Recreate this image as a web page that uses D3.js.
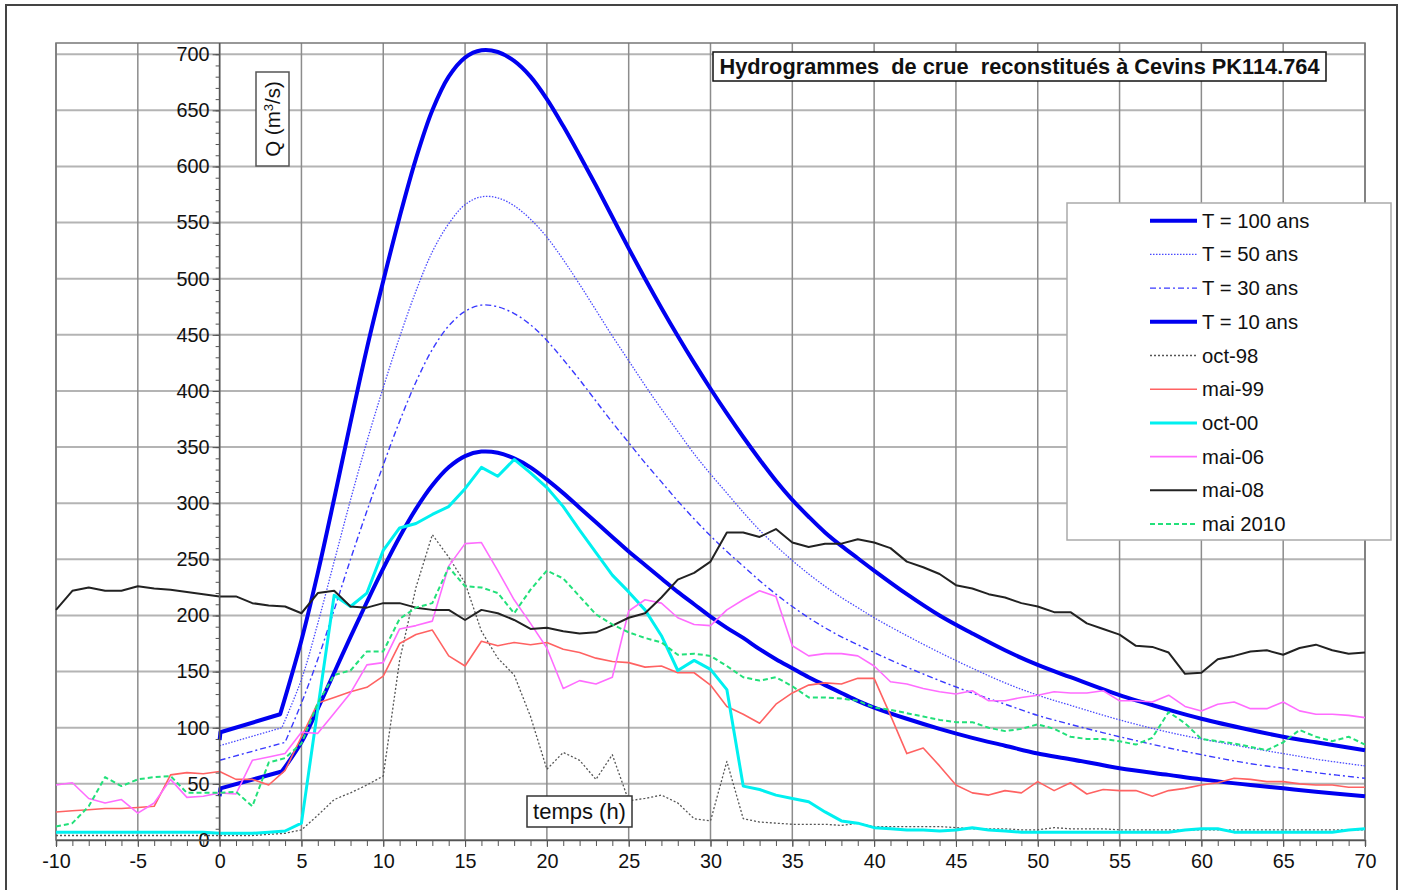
<!DOCTYPE html>
<html><head><meta charset="utf-8">
<script src="https://cdn.jsdelivr.net/npm/d3@7/dist/d3.min.js"></script>
<style>
body{margin:0;background:#fff}
svg{display:block}
text{font-family:"Liberation Sans",Arial,sans-serif;fill:#111}
</style>
</head><body>
<svg id="c" width="1405" height="890"></svg>
<script>
// ---------- DATA ----------
const titleText = "Hydrogrammes  de crue  reconstitués à Cevins PK114.764";
const xLabel = "temps (h)";
const xTickLabels = [-10,-5,0,5,10,15,20,25,30,35,40,45,50,55,60,65,70];
const yTickLabels = [0,50,100,150,200,250,300,350,400,450,500,550,600,650,700];

// observed series, hourly from t = -10 to t = 70
const hours = [-10,-9,-8,-7,-6,-5,-4,-3,-2,-1,0,1,2,3,4,5,6,7,8,9,10,11,12,13,14,15,16,17,18,19,20,21,22,23,24,25,26,27,28,29,30,31,32,33,34,35,36,37,38,39,40,41,42,43,44,45,46,47,48,49,50,51,52,53,54,55,56,57,58,59,60,61,62,63,64,65,66,67,68,69,70];

const oct98 = [4,4,4,4,4,4,4,4,4,4, 4,4,4,5,6,9,22,36,42,49, 57,160,225,272,252,229,186,162,147,110, 63,78,71,54,76,35,37,40,33,19, 17,70,19,16,15,14,14,14,13,15, 12,12,12,12,12,11,10,10,10,9, 9,11,10,10,10,9,9,9,9,9, 9,9,9,9,9,9,9,9,9,9, 9];
const mai99 = [25,26,27,28,28,29,30,58,60,59, 61,54,54,49,62,92,122,127,132,136, 146,175,183,187,164,155,177,173,176,174, 176,170,167,162,159,158,154,155,149,149, 138,119,112,104,121,131,138,140,139,144, 144,111,77,82,66,49,42,40,44,42, 52,44,51,41,45,44,44,39,44,46, 49,51,55,54,52,52,50,49,49,47, 47];
const oct00 = [7,7,7,7,7,7,7,7,7,7, 6,6,6,7,8,15,117,218,208,220, 258,278,282,290,297,313,332,324,339,327, 314,297,276,256,236,221,205,182,151,160, 152,134,48,45,40,37,34,25,17,15, 11,10,9,9,8,9,11,9,8,7, 7,7,7,7,7,7,7,7,7,9, 10,10,7,7,7,7,7,7,7,9, 10];
const mai06 = [49,51,37,33,36,24,33,54,38,39, 42,41,71,74,77,96,95,113,131,156, 158,188,191,195,244,264,265,240,214,193, 171,135,142,139,145,204,214,211,198,192, 191,205,214,222,217,173,164,166,166,164, 155,141,139,135,132,130,133,124,124,127, 129,132,131,131,133,124,124,123,129,119, 115,121,123,117,117,123,115,112,112,111, 109];
const mai08 = [205,222,225,222,222,226,224,223,221,219, 217,217,211,209,208,202,220,222,208,207, 211,211,207,205,205,196,205,202,196,188, 189,186,184,185,191,198,202,216,232,238, 248,274,274,270,277,265,261,264,264,268, 265,260,248,243,237,227,224,219,216,211, 208,203,203,193,188,183,173,172,167,148, 149,161,164,168,169,165,171,174,169,166, 167];
const mai2010 = [12,15,30,56,48,54,56,57,42,42, 42,43,30,69,73,86,122,147,151,168, 168,197,207,211,243,226,225,220,202,223, 240,233,217,201,192,185,180,176,165,166, 164,155,145,142,145,137,127,127,126,124, 118,116,113,110,107,105,105,100,97,99, 103,99,92,90,90,88,85,91,114,104, 90,88,86,83,80,87,98,92,88,92, 85];

// design hydrographs [time (h), Q]
const t100 = [[0,89],[0.05,96],[3.7,112],[5,178],[6,238],[7,304],[8,372],[9,438],[10,498],[11,555],[12,607],[13,650],[14,680],[15,697],[16,703.5],[17,702],[18,694],[19,680],[20,660],[21,636],[22,610],[23,583],[24,555],[25,527],[26,500],[27,474],[28,449],[29,425],[30,402],[31,380],[32,359],[33,339],[34,320],[35,303],[36,288],[37,274],[38,262],[39,251],[40,240],[42,219],[44,200],[46,184],[48,169],[50,156],[52,145],[55,129],[58,116],[60,108],[63,98],[65,92],[67,87],[70,80]];
const t50 = [[0,84],[3.8,100],[5,143],[6,193],[7,248],[8,303],[9,355],[10,403],[11,448],[12,489],[13,524],[14,549],[15,566],[16,573],[17,572],[18,565],[19,553],[20,537],[21,517],[22,495],[23,472],[24,449],[25,427],[26,405],[27,384],[28,364],[29,344],[30,326],[31,309],[32,292],[33,276],[34,262],[35,249],[36,237],[37,226],[38,216],[39,207],[40,198],[42,182],[44,167],[46,153],[48,140],[50,129],[52,120],[55,107],[58,96],[60,90],[63,82],[65,77],[67,72],[70,66]];
const t30 = [[0,71],[4,87],[5,122],[6,161],[7,205],[8,250],[9,293],[10,334],[11,373],[12,408],[13,437],[14,458],[15,471],[16,476.5],[17,475],[18,469],[19,459],[20,445],[21,428],[22,410],[23,391],[24,372],[25,354],[26,336],[27,319],[28,302],[29,286],[30,271],[31,257],[32,244],[33,231],[34,219],[35,208],[36,198],[37,189],[38,181],[39,174],[40,167],[42,154],[44,142],[46,131],[48,121],[50,111],[52,103],[55,92],[58,82],[60,76],[63,68],[65,64],[67,60],[70,55]];
const t10 = [[0,39],[0.05,46],[3.8,61],[5,87],[6,117],[7,149],[8,181],[9,212],[10,242],[11,270],[12,295],[13,316],[14,332],[15,342],[16,346],[17,345],[18,340],[19,332],[20,321],[21,309],[22,296],[23,283],[24,270],[25,257],[26,245],[27,233],[28,221],[29,210],[30,199],[31,189],[32,180],[33,170],[34,161],[35,153],[36,145],[37,138],[38,131],[39,124],[40,118],[42,108],[44,99],[46,91],[48,84],[50,77],[52,72],[55,64],[58,58],[60,54],[63,49],[65,46],[67,43],[70,39]];

const seriesNames = ["T = 100 ans","T = 50 ans","T = 30 ans","T = 10 ans","oct-98","mai-99","oct-00","mai-06","mai-08","mai 2010"];

// ---------- STYLES ----------
const styles = {
  "T = 100 ans": {c:"#0000f0", w:4, d:null, kink:2},
  "T = 50 ans":  {c:"#4a4aff", w:1.3, d:"1.5,1.5", kink:1},
  "T = 30 ans":  {c:"#3a3aff", w:1.4, d:"6,3,2,3", kink:1},
  "T = 10 ans":  {c:"#0000f0", w:4, d:null, kink:2},
  "oct-98":      {c:"#555555", w:1.3, d:"2,2"},
  "mai-99":      {c:"#ff6262", w:1.6, d:null},
  "oct-00":      {c:"#00f0f0", w:3, d:null},
  "mai-06":      {c:"#ff6cff", w:1.6, d:null},
  "mai-08":      {c:"#222222", w:2, d:null},
  "mai 2010":    {c:"#22e07a", w:2, d:"5,3"}
};
const FONT = "Liberation Sans, Arial, sans-serif";

const svg = d3.select("#c");
const x = d3.scaleLinear().domain([-10,70]).range([56,1365]);
const y = d3.scaleLinear().domain([0,710]).range([840,43]);

// outer frame
svg.append("rect").attr("x",6).attr("y",5).attr("width",1391).attr("height",900)
  .attr("fill","#fff").attr("stroke","#444").attr("stroke-width",2);

// grid
const g = svg.append("g");
g.selectAll(".hg").data(yTickLabels.filter(v=>v>0)).join("line")
  .attr("x1",x(-10)).attr("x2",x(70)).attr("y1",d=>y(d)).attr("y2",d=>y(d))
  .attr("stroke","#b4b4b4").attr("stroke-width",2);
g.selectAll(".vg").data(xTickLabels).join("line")
  .attr("x1",d=>x(d)).attr("x2",d=>x(d)).attr("y1",y(710)).attr("y2",y(0))
  .attr("stroke","#8c8c8c").attr("stroke-width",1.5);
svg.append("rect").attr("x",x(-10)).attr("y",y(710)).attr("width",x(70)-x(-10)).attr("height",y(0)-y(710))
  .attr("fill","none").attr("stroke","#777").attr("stroke-width",1.5);

// lines
const line = d3.line().x(d=>x(d[0])).y(d=>y(d[1]));
const smooth = d3.line().x(d=>x(d[0])).y(d=>y(d[1])).curve(d3.curveCatmullRom.alpha(0.5));
const obs = arr => hours.map((h,i)=>[h,arr[i]]);
const seriesData = {
  "T = 100 ans": t100, "T = 50 ans": t50, "T = 30 ans": t30, "T = 10 ans": t10,
  "oct-98": obs(oct98), "mai-99": obs(mai99), "oct-00": obs(oct00),
  "mai-06": obs(mai06), "mai-08": obs(mai08), "mai 2010": obs(mai2010)
};
const lg = svg.append("g");
seriesNames.forEach((n)=>{
  const s = styles[n], data = seriesData[n];
  let dstr;
  if (s.kink !== undefined) {
    const head = line(data.slice(0, s.kink+1));
    const tail = smooth(data.slice(s.kink));
    dstr = head + tail.replace(/^M/, "L");
  } else dstr = line(data);
  lg.append("path").attr("d", dstr)
    .attr("fill","none").attr("stroke",s.c).attr("stroke-width",s.w)
    .attr("stroke-dasharray",s.d).attr("stroke-linejoin","round");
});

// axes
const yAxisMinor = d3.axisLeft(y).tickValues(d3.range(0,701,10)).tickSize(4).tickFormat("");
const yAxisMajor = d3.axisLeft(y).tickValues(yTickLabels).tickSize(7).tickPadding(3).tickFormat(d=>String(d));
const ya1 = svg.append("g").attr("transform",`translate(${x(0)},0)`).call(yAxisMinor);
ya1.select(".domain").remove();
const ya2 = svg.append("g").attr("transform",`translate(${x(0)},0)`).call(yAxisMajor);
ya2.select(".domain").attr("d",`M0,${y(0)}V${y(710)}`);
[ya1,ya2].forEach(a=>{a.selectAll("line").attr("stroke","#555");a.selectAll(".domain").attr("stroke","#555").attr("stroke-width",1.5);});
ya2.selectAll("text").attr("font-size",19.8).attr("font-family",FONT).attr("fill","#111");

const xAxisMinor = d3.axisBottom(x).tickValues(d3.range(-10,71,1)).tickSize(6).tickFormat("");
const xa1 = svg.append("g").attr("transform",`translate(0,${y(0)})`).call(xAxisMinor);
xa1.select(".domain").attr("stroke","#555").attr("stroke-width",1.5);
const xAxisMajor = d3.axisBottom(x).tickValues(xTickLabels).tickSize(7).tickPadding(7).tickFormat(d=>String(d));
const xa2 = svg.append("g").attr("transform",`translate(0,${y(0)})`).call(xAxisMajor);
xa2.select(".domain").remove();
[xa1,xa2].forEach(a=>a.selectAll("line").attr("stroke","#555"));
xa2.selectAll("text").attr("font-size",19.8).attr("font-family",FONT).attr("fill","#111");

// title box
const tg = svg.append("g");
tg.append("rect").attr("x",713).attr("y",52).attr("width",613).attr("height",29)
  .attr("fill","#fff").attr("stroke","#111").attr("stroke-width",1.5);
tg.append("text").attr("x",1019.5).attr("y",74).attr("text-anchor","middle")
  .attr("font-size",21.5).attr("font-weight","bold").style("white-space","pre")
  .attr("textLength",600).attr("lengthAdjust","spacingAndGlyphs").text(titleText);

// y label box
svg.append("rect").attr("x",256).attr("y",72).attr("width",33).attr("height",94)
  .attr("fill","#fff").attr("stroke","#555").attr("stroke-width",1.5);
const yl = svg.append("text").attr("transform","translate(280,119) rotate(-90)")
  .attr("text-anchor","middle").attr("font-size",20.5);
yl.append("tspan").text("Q (m");
yl.append("tspan").attr("dy",-7).attr("font-size",13).text("3");
yl.append("tspan").attr("dy",7).text("/s)");

// x label box
svg.append("rect").attr("x",527).attr("y",796).attr("width",105).attr("height",31)
  .attr("fill","#fff").attr("stroke","#333").attr("stroke-width",1.5);
svg.append("text").attr("x",579.5).attr("y",818.5).attr("text-anchor","middle").attr("font-size",22).text(xLabel);

// legend
const leg = svg.append("g");
leg.append("rect").attr("x",1067).attr("y",203).attr("width",324).attr("height",337)
  .attr("fill","#fff").attr("stroke","#aaa").attr("stroke-width",1.5);
seriesNames.forEach((n,i)=>{
  const s = styles[n], yy = 220.7 + i*33.7;
  leg.append("line").attr("x1",1150).attr("x2",1197).attr("y1",yy).attr("y2",yy)
    .attr("stroke",s.c).attr("stroke-width",s.w).attr("stroke-dasharray",s.d);
  leg.append("text").attr("x",1202).attr("y",yy+7).attr("font-size",20.3).text(n);
});
</script>
</body></html>
